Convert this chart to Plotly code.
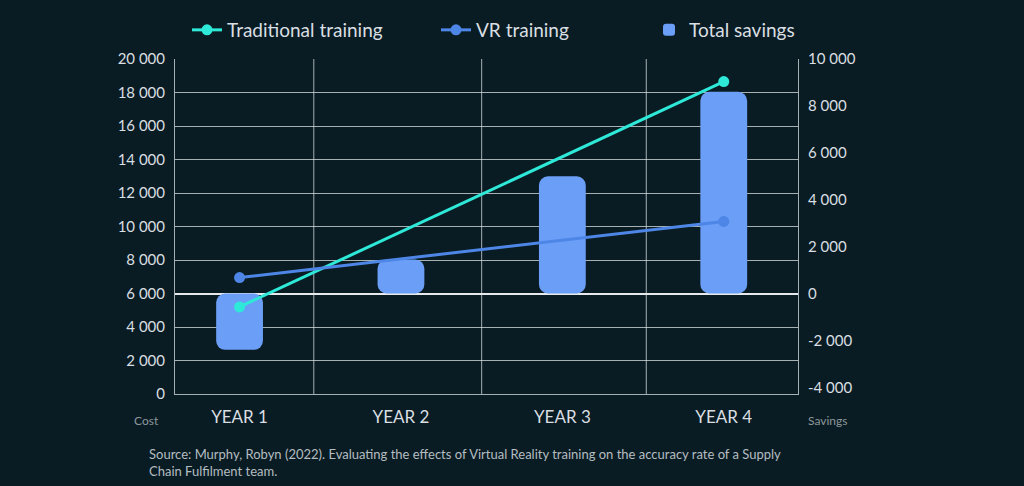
import plotly.graph_objects as go

years = ["YEAR 1", "YEAR 2", "YEAR 3", "YEAR 4"]
year_pos = [0, 1, 2, 3]
line_years = [0, 3]
traditional = [5200, 18650]
vr = [6950, 10300]
savings = [-2400, 1450, 5000, 8600]
bar_base = [0, 0, 0, 0]

left_ticks = [0, 2000, 4000, 6000, 8000, 10000, 12000, 14000, 16000, 18000, 20000]
left_labels = ["0", "2 000", "4 000", "6 000", "8 000", "10 000", "12 000", "14 000", "16 000", "18 000", "20 000"]
right_ticks = [-4000, -2000, 0, 2000, 4000, 6000, 8000, 10000]
right_labels = ["-4 000", "-2 000", "0", "2 000", "4 000", "6 000", "8 000", "10 000"]

BG = "#0a1c23"
TXT = "#d9dfe2"
GRID = "rgba(220,225,228,0.75)"
BAR = "#6b9ef6"
TEAL = "#2ee8d8"
BLUE = "#4d86e6"
FONT = "Lato"

fig = go.Figure()
fig.add_trace(go.Bar(x=year_pos, y=savings, base=bar_base, yaxis="y", marker=dict(color=BAR, line=dict(width=0)),
                     width=0.29, name="Total savings", legend="legend3"))
fig.add_trace(go.Scatter(x=line_years, y=traditional, mode="lines+markers", name="Traditional training",
                         yaxis="y2", line=dict(color=TEAL, width=3), marker=dict(size=11, color=TEAL),
                         legend="legend"))
fig.add_trace(go.Scatter(x=line_years, y=vr, mode="lines+markers", name="VR training",
                         yaxis="y2", line=dict(color=BLUE, width=3), marker=dict(size=11, color=BLUE),
                         legend="legend2"))

leg_common = dict(orientation="h", yref="container", y=1 - 30 / 486, yanchor="middle", xanchor="left",
                  xref="container", font=dict(size=19, color=TXT, family=FONT), bgcolor="rgba(0,0,0,0)")

fig.update_layout(
    width=1024, height=486,
    margin=dict(l=175, r=226, t=59, b=92, autoexpand=False),
    paper_bgcolor=BG, plot_bgcolor=BG,
    font=dict(family=FONT, color=TXT, size=15),
    barcornerradius=9,
    showlegend=True,
    legend=dict(x=187 / 1024, **leg_common),
    legend2=dict(x=436 / 1024, **leg_common),
    legend3=dict(x=649 / 1024, **leg_common),
    xaxis=dict(range=[-0.4, 3.46], tickvals=year_pos, ticktext=years, showgrid=False,
               tickfont=dict(size=17, color=TXT), ticks="", zeroline=False,
               showline=True, linecolor=GRID, linewidth=1, ticklabelstandoff=8),
    yaxis2=dict(range=[0, 20000], tickvals=left_ticks, ticktext=left_labels, showgrid=True,
                overlaying="y", side="left",
                gridcolor=GRID, gridwidth=1, zeroline=False, showline=True, linecolor=GRID,
                linewidth=1, ticks="", tickfont=dict(size=15, color=TXT), ticklabelstandoff=6),
    yaxis=dict(range=[-4285.7, 10000], tickvals=right_ticks, ticktext=right_labels,
               side="right", showgrid=False, zeroline=True, zerolinecolor="#e6eaec", zerolinewidth=2,
               showline=True, linecolor=GRID, linewidth=1, ticks="", tickfont=dict(size=15, color=TXT),
               ticklabelstandoff=6),
    shapes=[dict(type="line", xref="x", yref="paper", x0=v, x1=v, y0=0, y1=1,
                 line=dict(color=GRID, width=1), layer="below") for v in [0.46, 1.5, 2.52]],
    annotations=[
        dict(text="Cost", xref="paper", yref="paper", x=-0.045, y=-0.08, showarrow=False,
             xanchor="center", yanchor="middle", font=dict(size=12, color="#8c979c")),
        dict(text="Savings", xref="paper", yref="paper", x=1.047, y=-0.08, showarrow=False,
             xanchor="center", yanchor="middle", font=dict(size=12, color="#8c979c")),
        dict(text="Source: Murphy, Robyn (2022). Evaluating the effects of Virtual Reality training on the accuracy rate of a Supply<br>Chain Fulfilment team.",
             xref="paper", yref="paper", x=-0.045, y=-0.149, showarrow=False, align="left",
             xanchor="left", yanchor="top", font=dict(size=13, color="#b4bdc1")),
    ],
)

fig.write_html("out.html")
